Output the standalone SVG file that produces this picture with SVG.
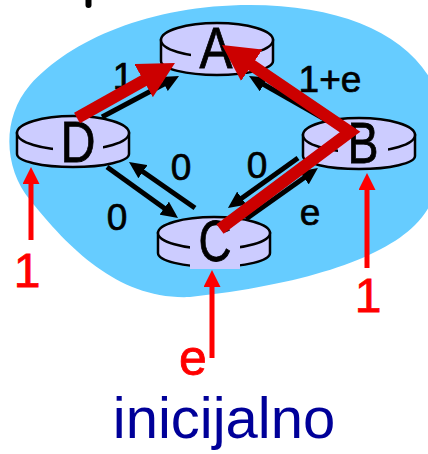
<svg xmlns="http://www.w3.org/2000/svg" width="428" height="454" viewBox="0 0 428 454">
<style>
.cyl{fill:#CCCCFF;stroke:#000;stroke-width:2.5}
.box{fill:#CCCCFF}
.ltr{font-family:"Liberation Sans",Arial,sans-serif;font-size:58px;fill:#000;stroke:#000;stroke-width:0.8;text-anchor:middle}
.lbl{font-family:"Liberation Sans",Arial,sans-serif;font-size:37px;fill:#000;stroke:#000;stroke-width:0.7;text-anchor:middle}
.rlbl{font-family:"Liberation Sans",Arial,sans-serif;font-size:48px;fill:#FF0000;stroke:#FF0000;stroke-width:0.8;text-anchor:middle}
.blk{stroke:#000;stroke-width:5;fill:none;marker-end:url(#ah)}
.red{stroke:#CC0000;stroke-width:12;fill:none;stroke-linejoin:miter;marker-end:url(#rh)}
.inp{stroke:#FF0000;stroke-width:5;fill:none;marker-end:url(#ih)}
</style>
<defs>
<marker id="ah" markerUnits="userSpaceOnUse" markerWidth="17" markerHeight="16" refX="7" refY="8" orient="auto"><path d="M0,0 L17,8 L0,16 Z" fill="#000"/></marker>
<marker id="rh" markerUnits="userSpaceOnUse" markerWidth="36" markerHeight="38" refX="6" refY="19" orient="auto"><path d="M0,0 L36,19 L0,38 Z" fill="#CC0000"/></marker>
<marker id="ih" markerUnits="userSpaceOnUse" markerWidth="17" markerHeight="17" refX="7" refY="8.5" orient="auto"><path d="M0,0 L17,8.5 L0,17 Z" fill="#FF0000"/></marker>
</defs>
<rect width="428" height="454" fill="#fff"/>
<line x1="88.5" y1="-3" x2="88.5" y2="5" stroke="#000" stroke-width="6" stroke-linecap="round"/>
<path id="cloud" d="M250,5 C350,5 420,40 440,100 C450,160 440,200 415,225 C380,260 300,285 190,297 C120,300 70,250 30,200 C5,170 0,120 30,85 C70,40 150,5 250,5 Z" fill="#66CCFF"/>
<g id="labels">
<text class="lbl" x="123" y="89">1</text>
<text class="lbl" x="330" y="92">1+e</text>
<text class="lbl" x="181" y="180">0</text>
<text class="lbl" x="117" y="230">0</text>
<text class="lbl" x="257" y="178">0</text>
<text class="lbl" x="310" y="225">e</text>
</g>
<g id="nodeA">
<path class="cyl" d="M161,40 L161,61 A56,14 0 0 0 273,61 L273,40 Z"/>
<ellipse class="cyl" cx="217" cy="40" rx="56" ry="17"/>
<rect class="box" x="191" y="44" width="50" height="26"/>
<text class="ltr" x="216" y="68" textLength="33" lengthAdjust="spacingAndGlyphs">A</text>
</g>
<g id="nodeD">
<path class="cyl" d="M17,133 L17,154 A56,13 0 0 0 129,154 L129,133 Z"/>
<ellipse class="cyl" cx="73" cy="133" rx="56" ry="17"/>
<rect class="box" x="53" y="137" width="50" height="25"/>
<text class="ltr" x="78" y="162" textLength="35" lengthAdjust="spacingAndGlyphs">D</text>
</g>
<g id="nodeB">
<path class="cyl" d="M303,135 L303,156 A56,13 0 0 0 415,156 L415,135 Z"/>
<ellipse class="cyl" cx="359" cy="135" rx="56" ry="17"/>
<rect class="box" x="338" y="139" width="50" height="24"/>
<text class="ltr" x="363" y="163" textLength="31" lengthAdjust="spacingAndGlyphs">B</text>
</g>
<g id="nodeC">
<path class="cyl" d="M158,233 L158,253 A56,14 0 0 0 270,253 L270,233 Z"/>
<ellipse class="cyl" cx="214" cy="233" rx="56" ry="16"/>
<rect class="box" x="190" y="238" width="50" height="31"/>
<text class="ltr" x="215" y="261" textLength="33" lengthAdjust="spacingAndGlyphs">C</text>
</g>
<g id="connectors">
<line class="blk" x1="102" y1="117" x2="170.2" y2="80.7"/>
<line class="blk" x1="328" y1="121" x2="257.7" y2="81"/>
<line class="blk" x1="107" y1="167" x2="169.9" y2="212.2"/>
<line class="blk" x1="195" y1="208" x2="137.2" y2="167.7"/>
<line class="blk" x1="298" y1="158" x2="236.1" y2="202.2"/>
<line class="blk" x1="246" y1="219" x2="309.8" y2="173.8"/>
<line class="red" x1="77" y1="118" x2="148.8" y2="77.7"/>
<polyline class="red" points="220,229 350,132 246.8,61.9"/>
<line class="inp" x1="31" y1="240" x2="31" y2="177"/>
<line class="inp" x1="367" y1="268" x2="367" y2="183"/>
<line class="inp" x1="212" y1="358" x2="212" y2="280"/>
</g>
<g id="inputs">
<text class="rlbl" x="27" y="287">1</text>
<text class="rlbl" x="368" y="312">1</text>
<text class="rlbl" x="193" y="375" style="font-size:50px">e</text>
</g>
<text x="224" y="438" style="font-family:'Liberation Sans',Arial,sans-serif;font-size:58px;fill:#000099;text-anchor:middle">inicijalno</text>
</svg>
